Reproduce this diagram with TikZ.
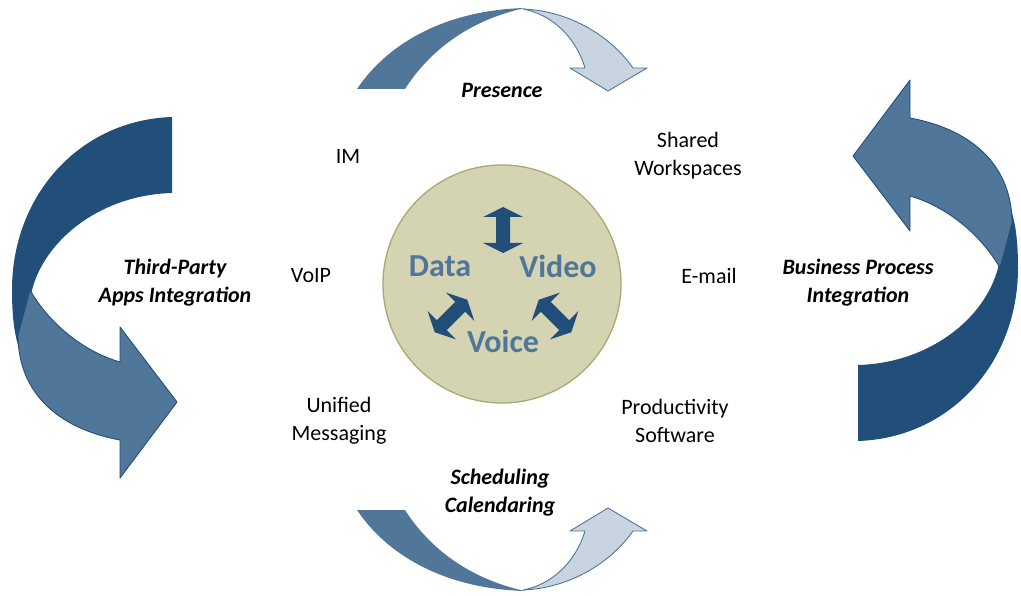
\documentclass[tikz,border=0pt]{standalone}
\usepackage{fontspec}
\setmainfont{Carlito}
\usepackage{tikz}
\usetikzlibrary{positioning}
\definecolor{navy}{HTML}{224E7A}
\definecolor{steel}{HTML}{50769A}
\definecolor{pale}{HTML}{C8D5E0}
\definecolor{khaki}{HTML}{D5D4B2}
\definecolor{olive}{HTML}{A8A877}
\tikzset{feature/.style={align=center, font=\fontsize{22}{28}\selectfont}}
\tikzset{integration/.style={align=center, font=\fontsize{22}{28}\selectfont\bfseries\itshape}}
\tikzset{medium/.style={text=steel, font=\fontsize{32}{34}\selectfont\bfseries}}
\tikzset{swap arrow/.pic={\fill[navy] (-23,0) -- (-13,20) -- (-13,7) -- (13,7) -- (13,20) -- (23,0) -- (13,-20) -- (13,-7) -- (-13,-7) -- (-13,-20) -- cycle;}}

\begin{document}
\begin{tikzpicture}[x=1pt, y=-1pt]
\useasboundingbox (0,0) rectangle (1021,596);

% curved arrow over the top: back part, then front part with the head
\fill[steel] (357,89) .. controls (390,40) and (450,10) .. (525,8)
  .. controls (470,20) and (430,50) .. (405,89) -- cycle;
\filldraw[fill=pale, draw=steel, line width=0.9pt, line join=round]
  (523,9) .. controls (572,11) and (612,38) .. (633,68) -- (647,68) -- (608,91)
  -- (570,68) -- (585,68) .. controls (575,35) and (550,14) .. (523,9) -- cycle;

% same arrow turned upside down under the bottom
\begin{scope}[shift={(0,599)}, yscale=-1]
\fill[steel] (357,89) .. controls (390,40) and (450,10) .. (525,8)
  .. controls (470,20) and (430,50) .. (405,89) -- cycle;
\filldraw[fill=pale, draw=steel, line width=0.9pt, line join=round]
  (523,9) .. controls (572,11) and (612,38) .. (633,68) -- (647,68) -- (608,91)
  -- (570,68) -- (585,68) .. controls (575,35) and (550,14) .. (523,9) -- cycle;
\end{scope}

% big side arrows, the right one is the left one turned round
\foreach \turn in {0,180} {
\begin{scope}[rotate around={\turn:(515,279)}]
\fill[navy] (172,117) .. controls (80,120) and (12,195) .. (12,290)
  .. controls (12,320) and (15,340) .. (22,356) -- (32,290)
  .. controls (45,240) and (100,195) .. (172,193) -- cycle;
\filldraw[fill=steel, draw=navy, line width=0.9pt, line join=round]
  (30,290) .. controls (50,325) and (85,352) .. (120,362) -- (120,327) -- (177,402)
  -- (120,478) -- (120,440) .. controls (55,428) and (18,390) .. (18,335) -- cycle;
\end{scope}
}

% hub
\node[circle, draw=olive, fill=khaki, line width=1.3pt, minimum size=238pt] (hub) at (502,284) {};
\pic[rotate=90] at (503,230) {swap arrow};
\pic[rotate=45] at (451,316) {swap arrow};
\pic[rotate=-45] at (555,316) {swap arrow};
\node[medium] (data) at (440,266) {Data};
\node[medium] (video) at (558,266) {Video};
\node[medium] (voice) at (503,341) {Voice};

% tools around the hub
\node[feature] (im) at (348,156) {IM};
\node[feature] (shared) at (688,156) {Shared\\Workspaces};
\node[feature] (voip) at (311,276) {VoIP};
\node[feature] (email) at (709,276) {E-mail};
\node[feature] (unified) at (339,421) {Unified\\Messaging};
\node[feature] (productivity) at (675,421) {Productivity\\Software};

% integration labels
\node[integration] (presence) at (502,90) {Presence};
\node[integration] (scheduling) at (500,493) {Scheduling\\Calendaring};
\node[integration] (thirdparty) at (175,283) {Third-Party\\Apps Integration};
\node[integration] (business) at (858,283) {Business Process\\Integration};
\end{tikzpicture}
\end{document}
